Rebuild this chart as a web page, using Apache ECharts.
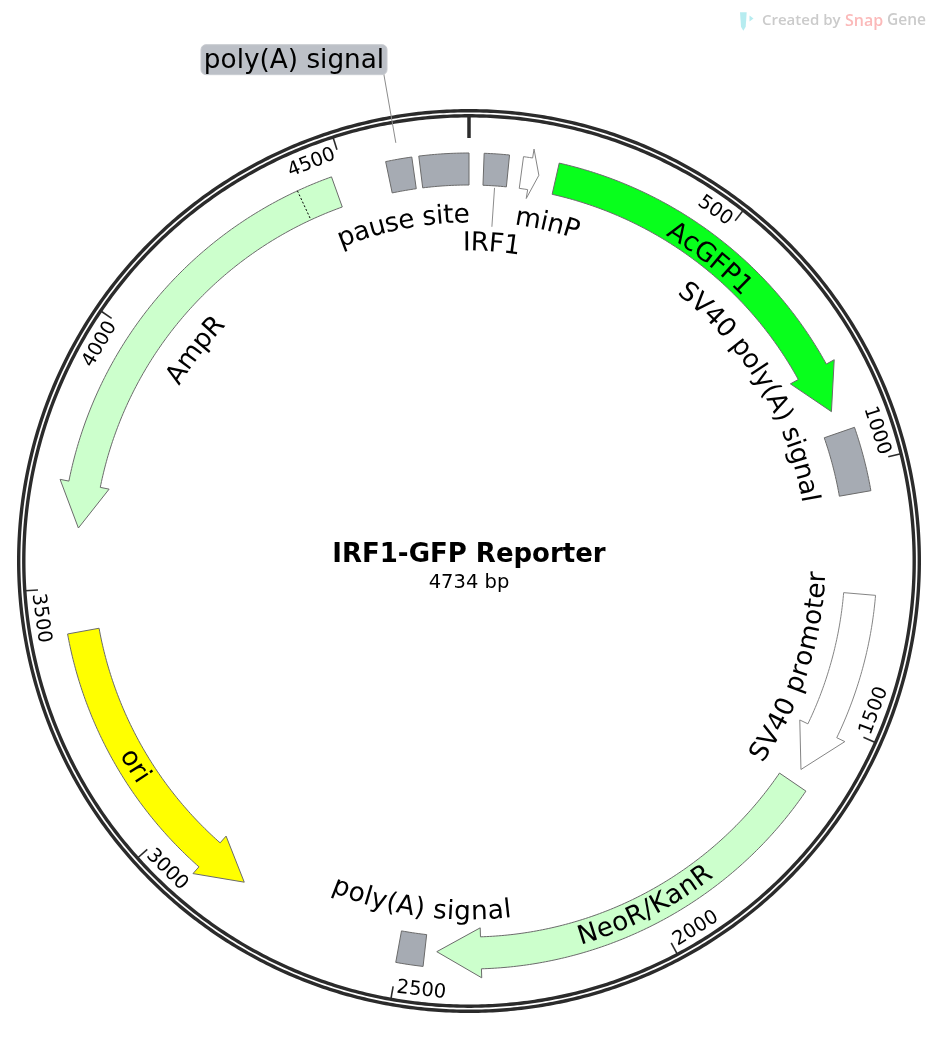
<!DOCTYPE html>
<html>
<head>
<meta charset="utf-8">
<style>html,body{margin:0;padding:0;background:#fff}#c{width:938px;height:1054px}</style>
<script src="https://cdn.jsdelivr.net/npm/echarts@6/dist/echarts.min.js"></script>
</head>
<body>
<div id="c"></div>
<script>
// ---- data ----
const plasmidName = 'IRF1-GFP Reporter';
const plasmidLength = 4734;
const featureNames = ['AcGFP1','SV40 poly(A) signal','SV40 promoter','NeoR/KanR','poly(A) signal','ori','AmpR','poly(A) signal','pause site','IRF1','minP'];
const featureStart = [168, 932, 1247, 1635, 2452, 3415, 4475, 4579, 4641, 28, 101];
const featureEnd   = [889, 1053, 1606, 2429, 2503, 2827, 3614, 4628, 4734, 75, 135];
const featureArrow = [1, 0, 1, 1, 0, 1, 1, 0, 0, 0, 1];
const featureColor = ['#08ff1c','#a6abb3','#ffffff','#ccffcc','#a6abb3','#ffff00','#ccffcc','#a6abb3','#a6abb3','#a6abb3','#ffffff'];
const tickValues = [500, 1000, 1500, 2000, 2500, 3000, 3500, 4000, 4500];
const tickLabels = ['500','1000','1500','2000','2500','3000','3500','4000','4500'];
const ampSignalBoundary = [4407];

// ---- layout ----
const FONT = '"DejaVu Sans"';
const LABEL_SIZE = 26.3, TICK_SIZE = 19.5;
const BAND_IN = 376, BAND_OUT = 408, HEAD_IN = 367, HEAD_OUT = 417, BAND_MID = 392;
const HEAD_BP = 85;
const GLYPH_SHIFT = 0.1; // em: distance from the line box middle to the glyph middle
const BP_PER_RAD = plasmidLength / (2 * Math.PI);
const labelPlace = [
  {i:0, bp:506,  r:390, inward:false},
  {i:1, bp:776,  r:348, inward:false},
  {i:2, bp:1423, r:347, inward:true},
  {i:3, bp:2012, r:390, inward:true},
  {i:4, bp:2471, r:349, inward:true},
  {i:5, bp:3136, r:390, inward:true},
  {i:6, bp:4045, r:348, inward:false},
  {i:8, bp:4589, r:348, inward:false},
  {i:9, bp:54,   r:320, inward:false},
  {i:10,bp:172,  r:349, inward:false}
];
const ctx = document.createElement('canvas').getContext('2d');
function measure(t, size){ ctx.font = size + 'px ' + FONT; return ctx.measureText(t).width; }
const rot = (bp, inward) => {
  const deg = bp / plasmidLength * 360;
  return -(inward ? deg - 180 : deg) * Math.PI / 180;
};
function arcPts(api, r, a, b){
  const n = Math.max(2, Math.ceil(Math.abs(b - a) / 6));
  const out = [];
  for (let k = 0; k <= n; k++) { const c = api.coord([r, a + (b - a) * k / n]); out.push([c[0], c[1]]); }
  return out;
}
const xy = (api, r, bp) => { const c = api.coord([r, bp]); return [c[0], c[1]]; };

const renderRing = (params, api) => {
  const r = api.value(0);
  return {type:'polygon', shape:{points:arcPts(api, r, 0, plasmidLength - 1)},
    style:{fill:'none', stroke:'#2b2b2b', lineWidth:3.4}};
};
const renderTick = (params, api) => {
  const bp = api.value(0);
  const label = tickLabels[params.dataIndex];
  const hw = measure(label, TICK_SIZE) / 2;
  const centre = bp - (hw + 3.5) / 430 * BP_PER_RAD;
  const inward = centre > plasmidLength / 4 && centre < plasmidLength * 3 / 4;
  const p = xy(api, 430 + (inward ? 1 : -1) * GLYPH_SHIFT * TICK_SIZE, centre);
  return {type:'group', children:[
    {type:'line', shape:{x1:xy(api,445,bp)[0], y1:xy(api,445,bp)[1], x2:xy(api,432,bp)[0], y2:xy(api,432,bp)[1]},
     style:{stroke:'#2b2b2b', lineWidth:1.6}},
    {type:'text', x:p[0], y:p[1], rotation:rot(centre, inward),
     style:{text:label, fill:'#000', font:TICK_SIZE + 'px ' + FONT, textAlign:'center', textVerticalAlign:'middle'}}
  ]};
};
const renderFeature = (params, api) => {
  const i = params.dataIndex;
  const s = api.value(0), e = api.value(1);
  let pts;
  if (featureArrow[i]) {
    const dir = e > s ? 1 : -1;
    const len = Math.abs(e - s);
    const head = Math.min(HEAD_BP, len / 2);
    const hb = e - dir * head;
    pts = arcPts(api, BAND_OUT, s, hb)
      .concat([xy(api, HEAD_OUT, hb), xy(api, BAND_MID, e), xy(api, HEAD_IN, hb)])
      .concat(arcPts(api, BAND_IN, hb, s));
  } else {
    pts = arcPts(api, BAND_OUT, s, e).concat(arcPts(api, BAND_IN, e, s));
  }
  const white = featureColor[i] === '#ffffff';
  return {type:'polygon', shape:{points:pts},
    style:{fill:featureColor[i], stroke:white ? '#858585' : '#6b6b6b', lineWidth:1, lineJoin:'miter'}};
};
const renderDivider = (params, api) => {
  const bp = api.value(0), a = xy(api, BAND_OUT, bp), b = xy(api, BAND_IN, bp);
  return {type:'line', shape:{x1:a[0], y1:a[1], x2:b[0], y2:b[1]},
    style:{stroke:'#000', lineWidth:1, lineDash:[2,2]}};
};
const renderLabel = (params, api) => {
  const pl = labelPlace[params.dataIndex];
  const text = featureNames[pl.i];
  const sign = pl.inward ? -1 : 1;
  const W = measure(text, LABEL_SIZE);
  const r = pl.r + (pl.inward ? 1 : -1) * GLYPH_SHIFT * LABEL_SIZE;
  let x = 0;
  const children = [];
  for (const ch of text) {
    const w = measure(ch, LABEL_SIZE);
    if (ch !== ' ') {
      const off = x + w / 2 - W / 2;
      const bp = pl.bp + sign * off / pl.r * BP_PER_RAD;
      const p = xy(api, r, bp);
      children.push({type:'text', x:p[0], y:p[1], rotation:rot(bp, pl.inward),
        style:{text:ch, fill:'#000', font:LABEL_SIZE + 'px ' + FONT, textAlign:'center', textVerticalAlign:'middle'}});
    }
    x += w;
  }
  return {type:'group', children};
};
const leaders = [{i:7, r0:424.5, r1:495}, {i:9, r0:335, r1:374}];
const renderLeader = (params, api) => {
  const l = leaders[params.dataIndex];
  const bp = (featureStart[l.i] + featureEnd[l.i]) / 2;
  const a = xy(api, l.r0, bp), b = xy(api, l.r1, bp);
  return {type:'line', shape:{x1:a[0], y1:a[1], x2:b[0], y2:b[1]}, style:{stroke:'#8c8c8c', lineWidth:1}};
};
const renderCallout = (params, api) => {
  const p = xy(api, 531, 4481);
  return {type:'group', children:[
    {type:'rect', shape:{x:p[0]-93, y:p[1]-15, width:186, height:30, r:5},
     style:{fill:'#bcc0c7', stroke:'#c9ccd1', lineWidth:1}},
    {type:'text', x:p[0], y:p[1] + 2, style:{text:featureNames[7], fill:'#000', font:LABEL_SIZE + 'px ' + FONT, textAlign:'center', textVerticalAlign:'middle'}}
  ]};
};
const custom = (name, data, renderItem) => ({type:'custom', name, coordinateSystem:'polar', data, renderItem, silent:true, animation:false});

const chart = echarts.init(document.getElementById('c'), null, {renderer:'canvas', width:938, height:1054});
chart.setOption({
  backgroundColor:'#ffffff',
  animation:false,
  title:{text:plasmidName, subtext:plasmidLength + ' bp', left:'center', top:542, itemGap:5, padding:0,
    textStyle:{fontFamily:FONT, fontSize:26, fontWeight:'bold', color:'#000'},
    subtextStyle:{fontFamily:FONT, fontSize:19.5, color:'#000'}},
  polar:{center:[469,561], radius:452},
  angleAxis:{type:'value', min:0, max:plasmidLength, startAngle:90, clockwise:true, show:false},
  radiusAxis:{type:'value', min:0, max:452, show:false},
  graphic:[
    {type:'polygon', silent:true, shape:{points:[[740,12.3],[746.7,12.3],[745.7,26.7],[743.3,30.7],[741,26.7]]}, style:{fill:'#b6ecf0'}},
    {type:'polygon', silent:true, shape:{points:[[749.5,15.5],[753.5,18.5],[749.5,21.5]]}, style:{fill:'#b6ecf0'}},
    {type:'text', silent:true, x:762, y:21, style:{text:'Created by', fill:'#cbcbcb', font:'600 15px "Open Sans"', textVerticalAlign:'middle'}},
    {type:'text', silent:true, x:845, y:21, style:{text:'Snap', fill:'#fbb9b9', font:'600 16px "Open Sans"', textVerticalAlign:'middle'}},
    {type:'text', silent:true, x:887, y:21, style:{text:'Gene', fill:'#cbcbcb', font:'600 15.5px "Open Sans"', textVerticalAlign:'middle'}}
  ],
  series:[
    custom('ring', [[450.3],[445.2]], renderRing),
    custom('origin', [[0]], (p, api) => {
      const a = xy(api, 446, 0), b = xy(api, 423, 0);
      return {type:'line', shape:{x1:a[0], y1:a[1], x2:b[0], y2:b[1]}, style:{stroke:'#2b2b2b', lineWidth:3.5}};
    }),
    custom('ticks', tickValues.map(v => [v]), renderTick),
    custom('leaders', leaders.map(l => [l.i]), renderLeader),
    custom('features', featureNames.map((n, i) => ({name:n, value:[featureStart[i], featureEnd[i]]})), renderFeature),
    custom('ampDivider', ampSignalBoundary.map(v => [v]), renderDivider),
    custom('labels', labelPlace.map(l => ({name:featureNames[l.i], value:[l.bp]})), renderLabel),
    custom('callout', [[0]], renderCallout)
  ]
});
</script>
</body>
</html>
